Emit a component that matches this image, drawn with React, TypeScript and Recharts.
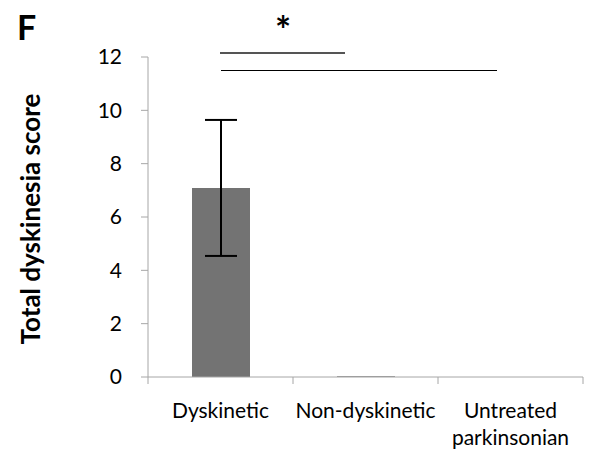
import { BarChart, Bar, XAxis, YAxis, ErrorBar } from "recharts";

document.body.style.margin = "0";

const groups = ["Dyskinetic", "Non-dyskinetic", "Untreated parkinsonian"];
const scores = [7.09, 0.03, 0];
const sem = [2.55, 0, 0];
const yTicks = [0, 2, 4, 6, 8, 10, 12];

const data = groups.map((g, i) => ({ group: g, score: scores[i], err: sem[i] }));

const FONT = "Lato, 'Open Sans', sans-serif";
const AXIS = "#a6a6a6";
const BAND = 145;

// x-axis label + tick marks on the band boundaries (Excel style)
function GroupTick(props: any) {
  const { x, y, payload, index } = props;
  const lines: string[] = String(payload.value).split(" ");
  return (
    <g>
      <line x1={x - BAND / 2} x2={x - BAND / 2} y1={y} y2={y + 7} stroke={AXIS} />
      {index === groups.length - 1 && (
        <line x1={x + BAND / 2} x2={x + BAND / 2} y1={y} y2={y + 7} stroke={AXIS} />
      )}
      <text x={x} y={y + 41} textAnchor="middle" fontSize={21} fontFamily={FONT} fill="#000">
        {lines.map((l, i) => (
          <tspan key={i} x={x} dy={i === 0 ? 0 : 27}>
            {l}
          </tspan>
        ))}
      </text>
    </g>
  );
}

export default function App() {
  return (
    <div style={{ position: "relative", width: 599, height: 453, background: "#fff" }}>
      <BarChart width={599} height={453} data={data} margin={{ top: 57, right: 16, bottom: 0, left: 0 }}>
        <XAxis
          dataKey="group"
          stroke={AXIS}
          tickLine={false}
          tickSize={0}
          tickMargin={0}
          height={76}
          interval={0}
          tick={<GroupTick />}
        />
        <YAxis
          domain={[0, 12]}
          ticks={yTicks}
          width={148}
          stroke={AXIS}
          tickSize={7}
          tickMargin={19}
          tick={{ fill: "#000", fontSize: 21, fontFamily: FONT }}
        />
        <Bar dataKey="score" fill="#737373" barSize={58} isAnimationActive={false}>
          <ErrorBar dataKey="err" width={16} stroke="#000" strokeWidth={2} />
        </Bar>
      </BarChart>

      {/* panel letter, axis title and significance bars */}
      <svg width={599} height={453} style={{ position: "absolute", left: 0, top: 0, pointerEvents: "none" }}>
        <text x={17} y={40} fontSize={34} fontWeight="bold" fontFamily={FONT} fill="#000">
          F
        </text>
        <text
          x={0}
          y={0}
          transform="translate(40,219) rotate(-90)"
          textAnchor="middle"
          fontSize={26}
          fontWeight="bold"
          fontFamily={FONT}
          fill="#000"
        >
          Total dyskinesia score
        </text>
        <text x={283} y={44} textAnchor="middle" fontSize={38} fontWeight="bold" fontFamily={FONT} fill="#000">
          *
        </text>
        <line x1={220} x2={345} y1={53} y2={53} stroke="#555" strokeWidth={2} />
        <line x1={221} x2={497} y1={70.5} y2={70.5} stroke="#000" strokeWidth={1} />
      </svg>
    </div>
  );
}
